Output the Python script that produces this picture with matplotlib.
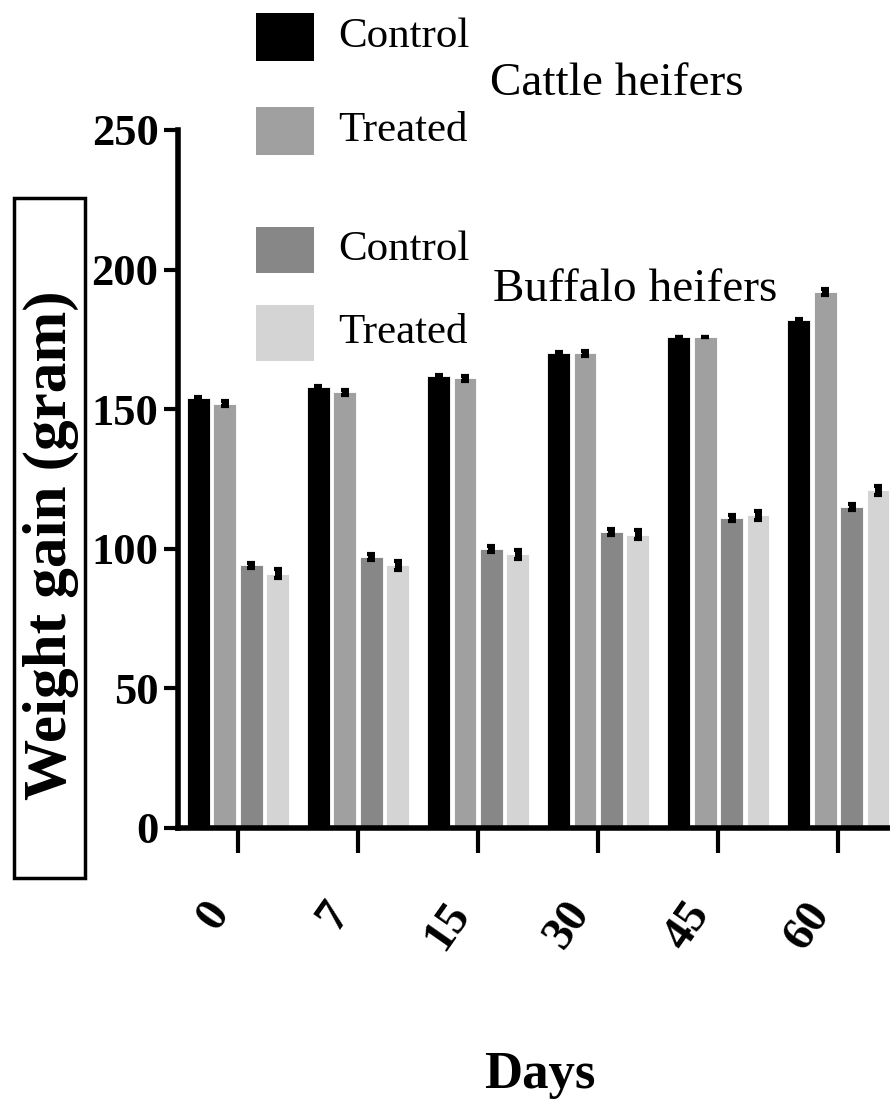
import numpy as np
import matplotlib; matplotlib.use("Agg")
import matplotlib.pyplot as plt
from matplotlib.patches import Rectangle

days = ["0", "7", "15", "30", "45", "60"]
cattle_control = [154, 158, 162, 170, 176, 182]
cattle_treated = [152, 156, 161, 170, 176, 192]
buffalo_control = [94, 97, 100, 106, 111, 115]
buffalo_treated = [91, 94, 98, 105, 112, 121]
err_cattle_control = [0.4, 0.4, 0.4, 0.4, 0.0, 0.4]
err_cattle_treated = [1.0, 1.0, 1.0, 0.8, 0.0, 1.0]
err_buffalo_control = [1.0, 1.0, 1.0, 1.0, 1.0, 1.0]
err_buffalo_treated = [1.6, 1.6, 1.6, 1.6, 1.6, 1.6]

series = [
    ("Control", cattle_control, err_cattle_control, "#000000"),
    ("Treated", cattle_treated, err_cattle_treated, "#a0a0a0"),
    ("Control", buffalo_control, err_buffalo_control, "#878787"),
    ("Treated", buffalo_treated, err_buffalo_treated, "#d4d4d4"),
]

SERIF = ["Liberation Serif", "DejaVu Serif"]
plt.rcParams["font.family"] = SERIF

fig = plt.figure(figsize=(8.9, 11.01), dpi=100)
ax = fig.add_axes([0.2, 0.248, 0.8, 0.634])

x = np.arange(len(days))
offsets = [-0.33, -0.11, 0.11, 0.33]
w = 0.19
for (lab, vals, err, col), off in zip(series, offsets):
    ax.bar(x + off, vals, w, color=col, edgecolor="white", linewidth=0.6, zorder=2)
    ax.errorbar(x + off, vals, yerr=err, fmt="none", ecolor="black",
                elinewidth=5, capsize=3, capthick=3, zorder=3)

ax.set_xlim(-0.5, 5.43)
ax.set_ylim(0, 250)
ax.set_yticks([0, 50, 100, 150, 200, 250])
ax.set_xticks(x)
ax.set_xticklabels(days, rotation=55, ha="right", fontsize=34, fontweight="bold")
ax.tick_params(axis="y", labelsize=32, width=3, length=10, pad=4)
ax.tick_params(axis="x", width=3, length=18, pad=30)
for t in ax.get_yticklabels():
    t.set_fontweight("bold")
for s in ["top", "right"]:
    ax.spines[s].set_visible(False)
for s in ["left", "bottom"]:
    ax.spines[s].set_linewidth(4)

# y label in a box
fig.patches.append(Rectangle((14 / 890, 1 - 878 / 1101), 71 / 890, 680 / 1101,
                             transform=fig.transFigure, fill=False,
                             edgecolor="black", linewidth=2.5))
fig.text(51 / 890, 1 - 545 / 1101, "Weight gain (gram)", rotation=90,
         ha="center", va="center", fontsize=44, fontweight="bold")

fig.text(540 / 890, 1 - 1075 / 1101, "Days", ha="center", va="center",
         fontsize=38, fontweight="bold")

# legend
box_y = [37, 131, 250, 333]
box_h = [48, 48, 46, 56]
for (lab, vals, err, col), yc, h in zip(series, box_y, box_h):
    fig.patches.append(Rectangle((256 / 890, 1 - (yc + h / 2) / 1101), 58 / 890, h / 1101,
                                 transform=fig.transFigure, facecolor=col,
                                 edgecolor="none"))
    fig.text(338 / 890, 1 - yc / 1101, lab, ha="left", va="center", fontsize=31)

fig.text(490 / 890, 1 - 84 / 1101, "Cattle heifers", ha="left", va="center", fontsize=34)
fig.text(493 / 890, 1 - 290 / 1101, "Buffalo heifers", ha="left", va="center", fontsize=34)

fig.savefig("out.png", dpi=100)
